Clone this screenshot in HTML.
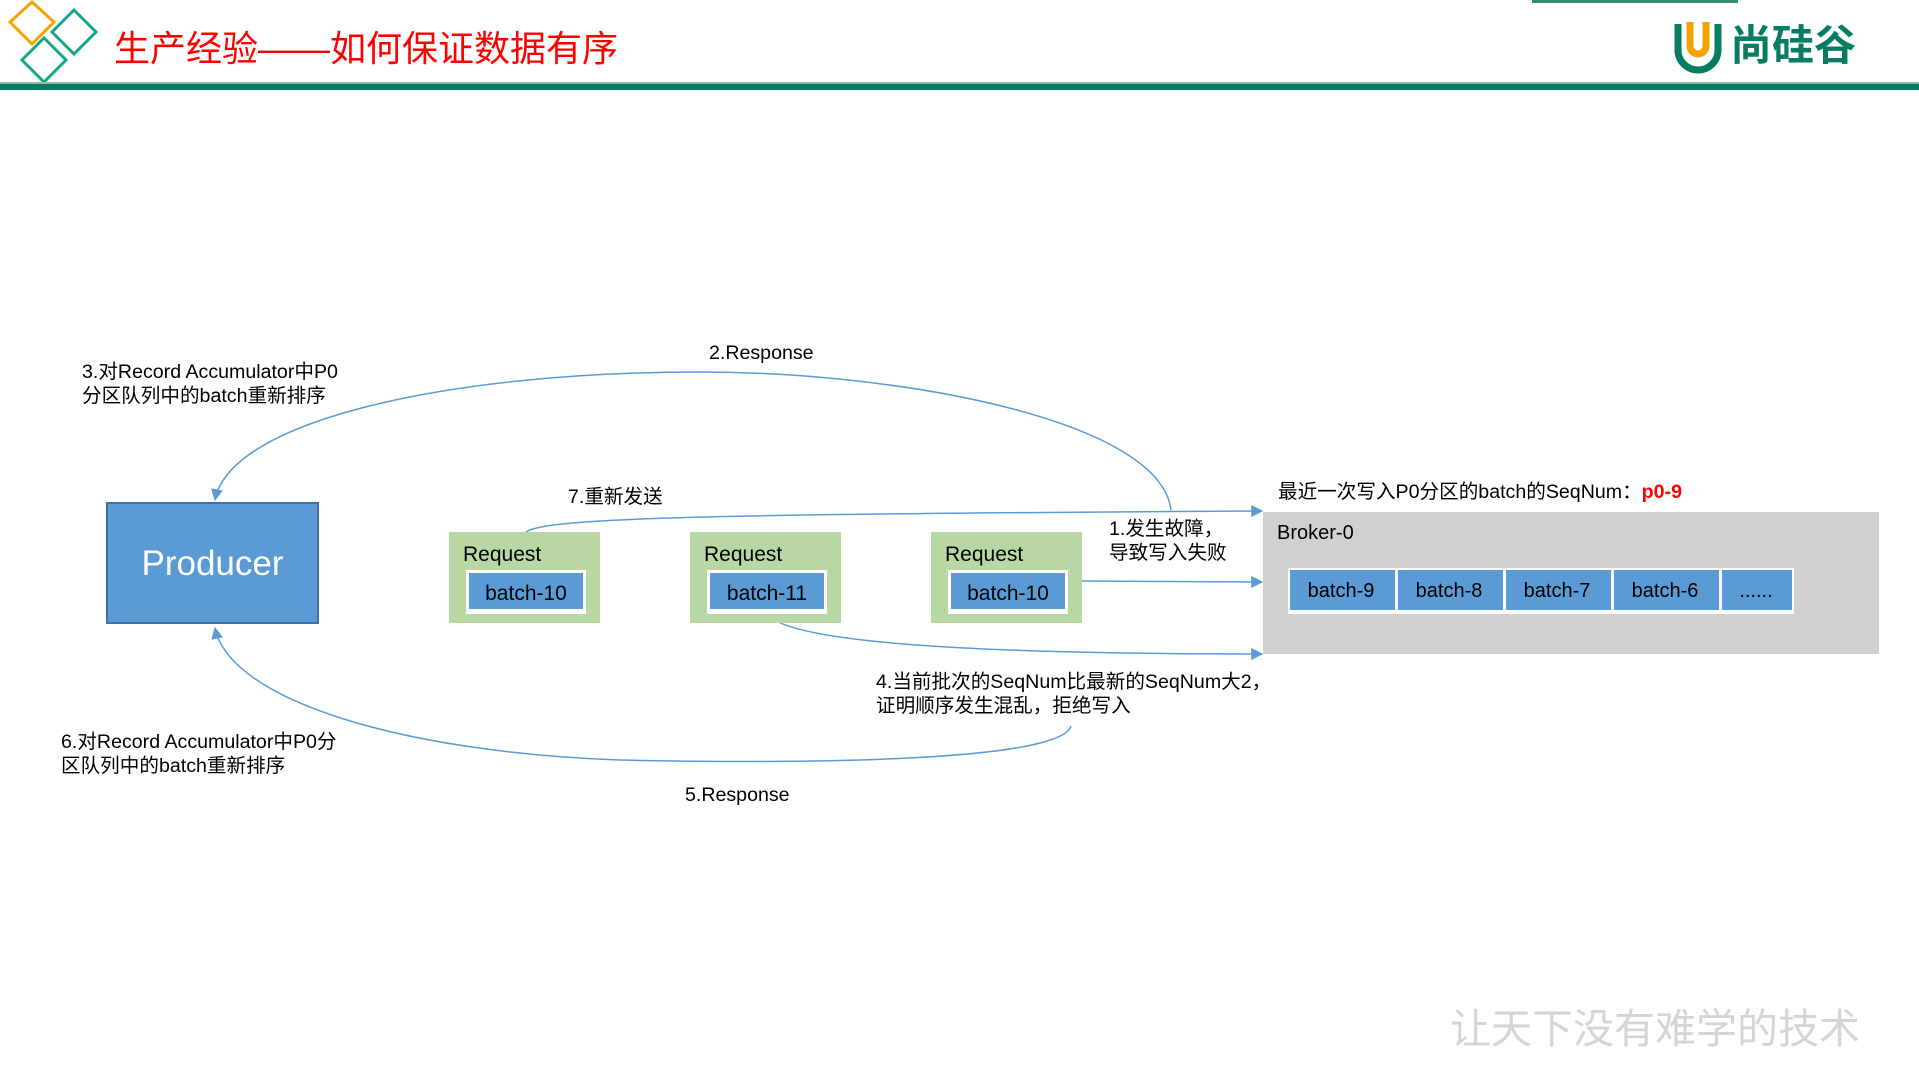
<!DOCTYPE html>
<html><head><meta charset="utf-8"><style>
html,body{margin:0;padding:0;background:#fff;}
svg{display:block;}
text{font-family:"Liberation Sans","Noto Sans CJK SC",sans-serif;}
</style></head><body>
<svg width="1919" height="1077" viewBox="0 0 1919 1077" xmlns="http://www.w3.org/2000/svg">
<defs>
<marker id="a" viewBox="0 0 10 10" refX="9" refY="5" markerWidth="8" markerHeight="8" orient="auto-start-reverse"><path d="M0,0 L10,5 L0,10 z" fill="#5b9bd5"/></marker>
</defs>
<rect x="1532" y="0" width="206" height="3" fill="#3a8a6e"/>
<polygon points="32,2 54,22 32,44 10,22" fill="none" stroke="#f5a300" stroke-width="3"/>
<polygon points="74,10 96,32 74,54 52,32" fill="none" stroke="#17a589" stroke-width="3"/>
<polygon points="44,38 66,60 44,82 22,60" fill="none" stroke="#17a589" stroke-width="3"/>
<text x="114" y="61" font-size="36" fill="#ff0000">生产经验——如何保证数据有序</text>
<rect x="0" y="82" width="1919" height="2" fill="#8fbcaa"/>
<rect x="0" y="84" width="1919" height="6" fill="#067d62"/>
<path d="M1678,24 L1678,50 A20,20 0 0 0 1718,50 L1718,24" fill="none" stroke="#067d62" stroke-width="7"/>
<path d="M1690,22 L1690,46 A8,8 0 0 0 1706,46 L1706,22" fill="none" stroke="#f5a300" stroke-width="7"/>
<text x="1730" y="60" font-size="42" font-weight="bold" fill="#067d62">尚硅谷</text>
<g fill="none" stroke="#5b9bd5" stroke-width="1.5">
<path d="M1171,510 C1160,420 900,372 700,372 C450,372 230,420 215,500" marker-end="url(#a)"/>
<path d="M526,532 C545,518 700,514 1262,511" marker-end="url(#a)"/>
<path d="M1082,581 L1262,582" marker-end="url(#a)"/>
<path d="M769,616 C800,645 1000,654 1262,654" marker-end="url(#a)"/>
<path d="M1071,726 C1060,762 800,764 620,760 C400,752 230,700 215,628" marker-end="url(#a)"/>
</g>
<rect x="107" y="503" width="211" height="120" fill="#5b9bd5" stroke="#41719c" stroke-width="2"/>
<text x="212.5" y="575" font-size="35" fill="#fff" text-anchor="middle">Producer</text>
<g font-size="21">
<rect x="449" y="532" width="151" height="91" fill="#b8d7a3"/>
<text x="463" y="561" fill="#000">Request</text>
<rect x="466" y="570" width="120" height="44" fill="#fff"/>
<rect x="469" y="573" width="114" height="36" fill="#5b9bd5"/>
<text x="526" y="600" text-anchor="middle">batch-10</text>
<rect x="690" y="532" width="151" height="91" fill="#b8d7a3"/>
<text x="704" y="561" fill="#000">Request</text>
<rect x="707" y="570" width="120" height="44" fill="#fff"/>
<rect x="710" y="573" width="114" height="36" fill="#5b9bd5"/>
<text x="767" y="600" text-anchor="middle">batch-11</text>
<rect x="931" y="532" width="151" height="91" fill="#b8d7a3"/>
<text x="945" y="561" fill="#000">Request</text>
<rect x="948" y="570" width="120" height="44" fill="#fff"/>
<rect x="951" y="573" width="114" height="36" fill="#5b9bd5"/>
<text x="1008" y="600" text-anchor="middle">batch-10</text>
</g>
<rect x="1263" y="512" width="616" height="142" fill="#d0d0d0"/>
<text x="1277" y="539" font-size="20">Broker-0</text>
<rect x="1288" y="568" width="506" height="46" fill="#fff"/>
<g fill="#5b9bd5">
<rect x="1290" y="570" width="105" height="40"/><rect x="1398" y="570" width="105" height="40"/>
<rect x="1506" y="570" width="105" height="40"/><rect x="1614" y="570" width="105" height="40"/>
<rect x="1722" y="570" width="70" height="40"/>
</g>
<g font-size="20" text-anchor="middle">
<text x="1341" y="597">batch-9</text><text x="1449" y="597">batch-8</text>
<text x="1557" y="597">batch-7</text><text x="1665" y="597">batch-6</text>
<text x="1756" y="597">......</text>
</g>
<g font-size="19.6" fill="#000">
<text x="82" y="378">3.对Record Accumulator中P0</text>
<text x="82" y="402">分区队列中的batch重新排序</text>
<text x="709" y="359">2.Response</text>
<text x="568" y="503">7.重新发送</text>
<text x="1109" y="535">1.发生故障，</text>
<text x="1109" y="559">导致写入失败</text>
<text x="1278" y="498">最近一次写入P0分区的batch的SeqNum：<tspan fill="#ff0000" font-weight="bold">p0-9</tspan></text>
<text x="876" y="688">4.当前批次的SeqNum比最新的SeqNum大2，</text>
<text x="876" y="712">证明顺序发生混乱，拒绝写入</text>
<text x="61" y="748">6.对Record Accumulator中P0分</text>
<text x="61" y="772">区队列中的batch重新排序</text>
<text x="685" y="801">5.Response</text>
</g>
<text x="1450" y="1043" font-size="41" fill="#d5d5d5" font-family="'Noto Serif CJK SC',serif">让天下没有难学的技术</text>
</svg>
</body></html>
